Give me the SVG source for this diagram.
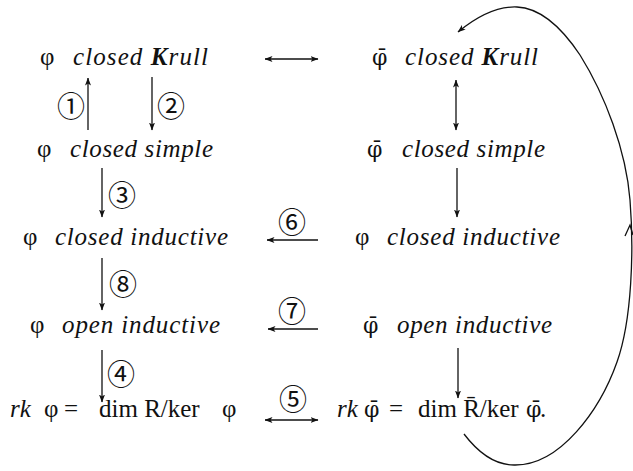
<svg xmlns="http://www.w3.org/2000/svg" width="633" height="471" viewBox="0 0 633 471">
<defs>
<marker id="ah" viewBox="0 0 8 6" refX="7.5" refY="3" markerWidth="8" markerHeight="6" markerUnits="userSpaceOnUse" orient="auto-start-reverse">
<path d="M0,0 L8,3 L0,6 L2,3 z" fill="#111"/>
</marker>
</defs>
<style>
.t{font-family:'Liberation Serif','DejaVu Serif',serif;font-size:25px;fill:#111}
.i{font-style:italic}
.b{font-family:'DejaVu Serif',serif;font-size:22px}
.n{font-family:'Noto Sans CJK JP','DejaVu Sans',sans-serif;font-size:28px;text-anchor:middle;fill:#111}
.a{stroke:#111;stroke-width:1.3;fill:none;marker-end:url(#ah)}
.d{marker-start:url(#ah)}
</style>
<rect width="633" height="471" fill="#fff"/>
<g class="t">
<g id="n1"><text x="40" y="65">φ</text><text class="i" x="73" y="65" textLength="135" lengthAdjust="spacing">closed <tspan font-weight="bold">K</tspan>rull</text></g>
<g id="n2"><text class="b" x="372" y="65">φ̄</text><text class="i" x="405" y="65" textLength="133" lengthAdjust="spacing">closed <tspan font-weight="bold">K</tspan>rull</text></g>
<g id="n3"><text x="37" y="157">φ</text><text class="i" x="70" y="157" textLength="143" lengthAdjust="spacing">closed simple</text></g>
<g id="n4"><text class="b" x="367" y="157">φ̄</text><text class="i" x="402" y="157" textLength="143" lengthAdjust="spacing">closed simple</text></g>
<g id="n5"><text x="23" y="245">φ</text><text class="i" x="55" y="245" textLength="173" lengthAdjust="spacing">closed inductive</text></g>
<g id="n6"><text x="355" y="245">φ</text><text class="i" x="387" y="245" textLength="173" lengthAdjust="spacing">closed inductive</text></g>
<g id="n7"><text x="30" y="333">φ</text><text class="i" x="62" y="333" textLength="158" lengthAdjust="spacing">open inductive</text></g>
<g id="n8"><text class="b" x="363" y="333">φ̄</text><text class="i" x="397" y="333" textLength="155" lengthAdjust="spacing">open inductive</text></g>
<g id="n9"><text y="417"><tspan class="i" x="10">rk</tspan><tspan x="44">φ</tspan><tspan x="64">=</tspan><tspan x="99">dim R/ker</tspan><tspan x="222">φ</tspan></text></g>
<g id="n10"><text y="417"><tspan class="i" x="337">rk</tspan><tspan class="b" x="364">φ̄</tspan><tspan x="389">=</tspan><tspan x="418">dim R̄/ker</tspan><tspan class="b" x="526">φ̄</tspan><tspan x="540">.</tspan></text></g>
</g>
<g id="connectors">
<path class="a d" d="M265,59 H318"/>
<path class="a" d="M88,130 V78"/>
<path class="a" d="M152,77 V130"/>
<path class="a d" d="M456,80 V130"/>
<path class="a" d="M102,168 V217"/>
<path class="a" d="M457,168 V217"/>
<path class="a" d="M318,240 H267"/>
<path class="a" d="M102,258 V310"/>
<path class="a" d="M318,329 H268"/>
<path class="a" d="M102,350 V402"/>
<path class="a" d="M458,348 V398"/>
<path class="a d" d="M265,420 H318"/>
<path class="a" d="M464,434 C480,455 497,465 514,465 C560,466 600,410 617,362 C632,320 634,250 630,200 C626,150 605,95 580,55 C560,25 540,8 517,7 C495,6 475,18 458,32"/>
<path d="M625,236 L630,225 L633,235" stroke="#111" stroke-width="1.3" fill="none"/>
<text class="n" x="71" y="117">①</text>
<text class="n" x="171" y="117">②</text>
<text class="n" x="122" y="206">③</text>
<text class="n" x="123" y="295">⑧</text>
<text class="n" x="121" y="385">④</text>
<text class="n" x="292" y="233">⑥</text>
<text class="n" x="292" y="322">⑦</text>
<text class="n" x="293" y="410">⑤</text>
</g>
</svg>
